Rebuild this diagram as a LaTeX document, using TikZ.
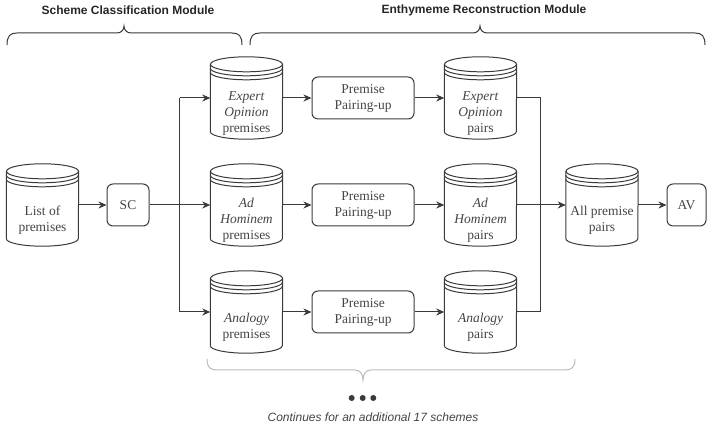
\documentclass[tikz,border=0pt]{standalone}
\usepackage{fontspec}
\setmainfont{Liberation Serif}
\newfontfamily\sansf{Liberation Sans}
\usetikzlibrary{arrows.meta,calc}
\definecolor{ln}{HTML}{3A3A3A}
\definecolor{tx}{HTML}{444444}
\definecolor{lb}{HTML}{BBBBBB}
\newcommand{\nodefont}{\fontsize{13.5}{16}\selectfont}
\newcommand{\dbt}[1]{\raisebox{-19pt}[0pt][0pt]{\begin{tabular}{@{}c@{}}#1\end{tabular}}}
\newcommand{\dbdraw}[1]{%
  \draw[dbline] ($(#1.north west)+(0,-7.5pt)$) -- ($(#1.south west)+(0,7.5pt)$)
     arc[start angle=180,end angle=360,x radius=36pt,y radius=7.5pt]
     -- ($(#1.north east)+(0,-7.5pt)$);
  \draw[dbline] ($(#1.north)+(0,-7.5pt)$) ellipse[x radius=36pt,y radius=7.5pt];
  \draw[dbline] ($(#1.north west)+(0,-11.5pt)$) arc[start angle=180,end angle=360,x radius=36pt,y radius=7.5pt];
  \draw[dbline] ($(#1.north west)+(0,-15.5pt)$) arc[start angle=180,end angle=360,x radius=36pt,y radius=7.5pt];
}
\begin{document}
\begin{tikzpicture}[x=1pt,y=1pt,
  db/.style={minimum width=72pt,minimum height=82pt,inner sep=0pt,font=\nodefont,text=tx},
  box/.style={draw=ln,line width=1pt,rounded corners=6pt,minimum height=42pt,inner sep=0pt,font=\nodefont,text=tx,align=center},
  dbline/.style={draw=ln,line width=1pt},
  wire/.style={draw=ln,line width=1pt},
  arr/.style={draw=ln,line width=1pt,-{Stealth[length=8pt,width=7pt,inset=2.5pt]}},
  title/.style={font=\sansf\bfseries\fontsize{12}{14}\selectfont,text=black!85},
  brace/.style={draw=ln,line width=1pt},
  lbrace/.style={draw=lb,line width=1pt}
]
\useasboundingbox (0,0) rectangle (707,430);

% titles
\node[title] (t1) at (128,420) {Scheme Classification Module};
\node[title] (t2) at (484,420) {Enthymeme Reconstruction Module};

% braces
\draw[brace] (7,385) .. controls (7,394) and (10,397) .. (17,397) -- (117,397)
  .. controls (121,397) and (124,400) .. (124,404)
  .. controls (124,400) and (127,397) .. (131,397) -- (232,397)
  .. controls (239,397) and (242,394) .. (242,385);
\draw[brace] (250,385) .. controls (250,394) and (253,397) .. (260,397) -- (473,397)
  .. controls (477,397) and (480,400) .. (480,404)
  .. controls (480,400) and (483,397) .. (487,397) -- (695,397)
  .. controls (702,397) and (705,394) .. (705,385);
\draw[lbrace] (207,71) .. controls (207,63) and (210,60) .. (217,60) -- (355,60)
  .. controls (360,60) and (363,56) .. (363,50)
  .. controls (363,56) and (366,60) .. (371,60) -- (565,60)
  .. controls (572,60) and (575,63) .. (575,71);

% nodes
\node[db] (list) at (42.5,225) {\dbt{List of\\premises}};
\node[box,minimum width=42pt] (sc) at (128,225) {SC};

\node[db] (eop) at (246.5,332) {\dbt{\textit{Expert}\\\textit{Opinion}\\premises}};
\node[db] (ahp) at (246.5,225) {\dbt{\textit{Ad}\\\textit{Hominem}\\premises}};
\node[db] (anp) at (246.5,118) {\dbt{\textit{Analogy}\\premises}};

\node[box,minimum width=102pt] (pp1) at (363,332) {Premise\\Pairing-up};
\node[box,minimum width=102pt] (pp2) at (363,225) {Premise\\Pairing-up};
\node[box,minimum width=102pt] (pp3) at (363,118) {Premise\\Pairing-up};

\node[db] (eoq) at (480.5,332) {\dbt{\textit{Expert}\\\textit{Opinion}\\pairs}};
\node[db] (ahq) at (480.5,225) {\dbt{\textit{Ad}\\\textit{Hominem}\\pairs}};
\node[db] (anq) at (480.5,118) {\dbt{\textit{Analogy}\\pairs}};

\node[db] (all) at (602,225) {\dbt{All premise\\pairs}};
\node[box,minimum width=39pt] (av) at (686.5,225) {AV};

\dbdraw{list}
\dbdraw{eop}\dbdraw{ahp}\dbdraw{anp}
\dbdraw{eoq}\dbdraw{ahq}\dbdraw{anq}
\dbdraw{all}

% junctions
\coordinate (s1) at (179.5,332);
\coordinate (s2) at (179.5,225);
\coordinate (s3) at (179.5,118);
\coordinate (m1) at (540.5,332);
\coordinate (m2) at (540.5,225);
\coordinate (m3) at (540.5,118);

% connectors
\draw[arr] (list.east) -- (sc.west);
\draw[wire] (sc.east) -- (s2);
\draw[wire] (s1) -- (s3);
\draw[arr] (s1) -- (eop.west);
\draw[arr] (s2) -- (ahp.west);
\draw[arr] (s3) -- (anp.west);

\draw[arr] (eop.east) -- (pp1.west);
\draw[arr] (ahp.east) -- (pp2.west);
\draw[arr] (anp.east) -- (pp3.west);
\draw[arr] (pp1.east) -- (eoq.west);
\draw[arr] (pp2.east) -- (ahq.west);
\draw[arr] (pp3.east) -- (anq.west);

\draw[wire] (eoq.east) -- (m1);
\draw[wire] (ahq.east) -- (m2);
\draw[wire] (anq.east) -- (m3);
\draw[wire] (m1) -- (m3);
\draw[arr] (m2) -- (all.west);
\draw[arr] (all.east) -- (av.west);

% continuation
\fill[ln] (351.7,32) circle[radius=3pt] (362.7,32) circle[radius=3pt] (373.3,32) circle[radius=3pt];
\node[font=\sansf\itshape\fontsize{12}{14}\selectfont,text=tx] (cont) at (373,13) {Continues for an additional 17 schemes};
\end{tikzpicture}
\end{document}
